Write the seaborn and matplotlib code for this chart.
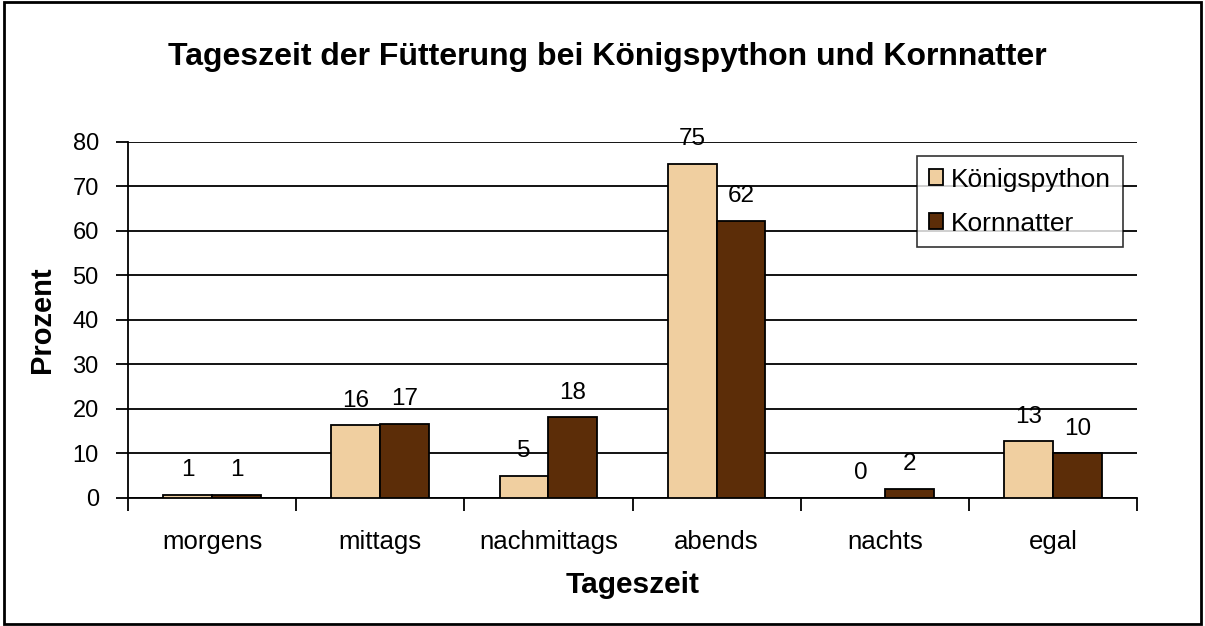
import matplotlib
matplotlib.use("Agg")
import matplotlib.pyplot as plt
import pandas as pd
import seaborn as sns
from matplotlib.patches import Rectangle

# data (percent)
categories = ["morgens", "mittags", "nachmittags", "abends", "nachts", "egal"]
series = ["Königspython", "Kornnatter"]
koenigspython = [0.6, 16.3, 5.0, 75.0, 0.0, 12.7]
kornnatter = [0.6, 16.7, 18.1, 62.3, 2.0, 10.0]
colors = ["#F0CFA0", "#5C2D08"]

df = pd.DataFrame({
    "Tageszeit": categories * 2,
    "Prozent": koenigspython + kornnatter,
    "Art": [series[0]] * len(categories) + [series[1]] * len(categories),
})

sns.set_style("white")
plt.rcParams["font.family"] = ["Liberation Sans", "DejaVu Sans"]
plt.rcParams.update({"text.color": "black", "axes.labelcolor": "black",
                     "xtick.color": "black", "ytick.color": "black"})

fig = plt.figure(figsize=(12.05, 6.26), dpi=100)
ax = fig.add_axes([0.1062, 0.2045, 0.8374, 0.5687])

sns.barplot(data=df, x="Tageszeit", y="Prozent", hue="Art", order=categories,
            hue_order=series, palette=colors, width=0.58, edgecolor="black",
            linewidth=1.3, saturation=1, ax=ax, zorder=3)

ax.set_ylim(0, 80)
ax.set_xlim(-0.5, len(categories) - 0.5)
ax.set_yticks(range(0, 81, 10))
ax.yaxis.grid(True, color="black", linewidth=1.3, zorder=0)
ax.set_axisbelow(True)
for side in ["top", "right"]:
    ax.spines[side].set_visible(False)
for side in ["left", "bottom"]:
    ax.spines[side].set_color("black")
    ax.spines[side].set_linewidth(1.3)

ax.tick_params(axis="y", length=9, width=1.3, direction="out", left=True,
               labelsize=17, pad=12)
ax.tick_params(axis="x", which="major", length=0, labelsize=18.5, pad=23)
ax.set_xticks([i - 0.5 for i in range(len(categories) + 1)], minor=True)
ax.tick_params(axis="x", which="minor", length=9, width=1.3, direction="out",
               bottom=True)

ax.set_xlabel("Tageszeit", fontsize=21.5, fontweight="bold", labelpad=12)
ax.set_ylabel("Prozent", fontsize=21, fontweight="bold", labelpad=12)

for container in ax.containers:
    ax.bar_label(container, labels=[f"{v:.0f}" for v in container.datavalues],
                 padding=10, fontsize=17.5)

leg = ax.legend(loc="upper right", bbox_to_anchor=(0.986, 0.961), fontsize=19,
                frameon=True, fancybox=False, edgecolor="black",
                borderaxespad=0, handlelength=0.55, handleheight=0.55,
                handletextpad=0.3, labelspacing=0.75, borderpad=0.45)
leg.get_frame().set_linewidth(1.2)

fig.text(0.504, 1 - 57 / 626, "Tageszeit der Fütterung bei Königspython und Kornnatter",
         ha="center", va="center", fontsize=23, fontweight="bold")

fig.patches.append(Rectangle((0.003, 0.003), 0.994, 0.994, transform=fig.transFigure,
                             fill=False, edgecolor="black", linewidth=2))

fig.savefig("out.png", dpi=100)
